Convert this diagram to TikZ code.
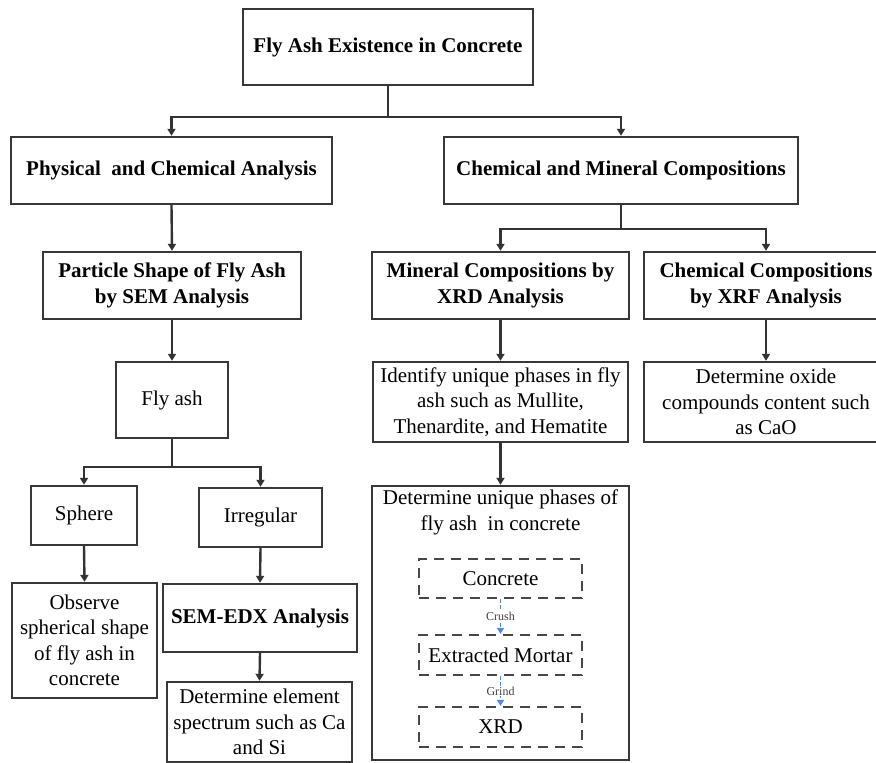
\documentclass[tikz,border=0pt]{standalone}
\usepackage{fontspec}
\setmainfont{Liberation Serif}
\usetikzlibrary{arrows.meta}
\begin{document}
\begin{tikzpicture}[x=1pt,y=-1pt,
  box/.style={draw=black!78, line width=2.4pt, rectangle, inner sep=0pt, align=center,
    font=\fontsize{21}{25.5}\selectfont},
  bbox/.style={box, font=\fontsize{21}{25.5}\selectfont\bfseries},
  dbox/.style={draw=black!72, line width=2.2pt, dash pattern=on 10pt off 7pt, rectangle,
    inner sep=0pt, minimum width=163pt, align=center, font=\fontsize{21}{24}\selectfont},
  conn/.style={draw=black!80, line width=2.4pt},
  arr/.style={conn, -{Triangle[length=7pt,width=8pt]}},
  barr/.style={draw={rgb,255:red,86;green,134;blue,214}, line width=1.6pt, dash pattern=on 4pt off 2pt, -{Triangle[length=6pt,width=7pt]}},
  small/.style={font=\fontsize{12}{13}\selectfont, text=black!75, fill=white, inner sep=1pt}
]
\useasboundingbox (0,0) rectangle (876,763);
\clip (0,0) rectangle (876,763);
\fill[white] (0,0) rectangle (876,763);

% level 0
\node[bbox, minimum width=290pt, minimum height=76pt] (top) at (388,47) {Fly Ash Existence in Concrete};
% level 1
\node[bbox, minimum width=321pt, minimum height=67pt] (phys) at (171.5,170.5) {Physical\ \ and Chemical Analysis};
\node[bbox, minimum width=354pt, minimum height=67pt] (chem) at (621,170.5) {Chemical and Mineral Compositions};
% left branch
\node[bbox, minimum width=258pt, minimum height=67pt] (part) at (172,285.5) {Particle Shape of Fly Ash\\by SEM Analysis};
\node[box, minimum width=112pt, minimum height=76pt] (flyash) at (172,400) {Fly ash};
\node[box, minimum width=106pt, minimum height=59pt] (sphere) at (84,515.5) {Sphere};
\node[box, minimum width=123pt, minimum height=59pt] (irreg) at (260.5,517.5) {Irregular};
\node[box, minimum width=145pt, minimum height=115pt] (observe) at (84.5,640.5) {Observe\\spherical shape\\of fly ash in\\concrete};
\node[bbox, minimum width=194pt, minimum height=68pt] (semedx) at (260,618) {SEM-EDX Analysis};
\node[box, minimum width=185pt, minimum height=80pt] (elem) at (259.5,722) {Determine element\\spectrum such as Ca\\and Si};
% right branch
\node[bbox, minimum width=257pt, minimum height=67pt] (mineral) at (500.5,285.5) {Mineral Compositions by\\XRD Analysis};
\node[bbox, minimum width=244pt, minimum height=67pt] (xrf) at (766,285.5) {Chemical Compositions\\by XRF Analysis};
\node[box, minimum width=255pt, minimum height=80pt] (identify) at (500.5,402) {Identify unique phases in fly\\ash such as Mullite,\\Thenardite, and Hematite};
\node[box, minimum width=244pt, minimum height=80pt] (oxide) at (766,402) {Determine oxide\\compounds content such\\as CaO};
\node[box, minimum width=257pt, minimum height=274pt] (unique) at (500.5,623) {};
\node[font=\fontsize{21}{26}\selectfont, align=center, anchor=north, inner sep=0pt] (uniquet) at (500.5,490) {Determine unique phases of\\fly ash\ \ in concrete};
\node[dbox, minimum height=39pt] (concrete) at (500.5,578.5) {Concrete};
\node[dbox, minimum height=40pt] (mortar) at (500.5,655) {Extracted Mortar};
\node[dbox, minimum height=40pt] (xrd) at (500.5,727) {XRD};

% connectors
\coordinate (j1) at (388,117);
\coordinate (j2) at (172,467);
\coordinate (j3) at (621,229);
\draw[conn] (top.south) -- (j1);
\draw[arr] (j1) -| (phys.north);
\draw[arr] (j1) -| (chem.north);
\draw[arr] (phys.south) -- (part.north);
\draw[arr] (part.south) -- (flyash.north);
\draw[conn] (flyash.south) -- (j2);
\draw[arr] (j2) -| (sphere.north);
\draw[arr] (j2) -| (irreg.north);
\draw[arr] (sphere.south) -- (observe.north);
\draw[arr] (irreg.south) -- (semedx.north);
\draw[arr] (semedx.south) -- (elem.north);
\draw[conn] (chem.south) -- (j3);
\draw[arr] (j3) -| (mineral.north);
\draw[arr] (j3) -| (xrf.north);
\draw[arr] (mineral.south) -- (identify.north);
\draw[arr] (xrf.south) -- (oxide.north);
\draw[arr] (identify.south) -- (unique.north);
\draw[barr] (concrete.south) -- node[small] {Crush} (mortar.north);
\draw[barr] (mortar.south) -- node[small] {Grind} (xrd.north);
\end{tikzpicture}
\end{document}
